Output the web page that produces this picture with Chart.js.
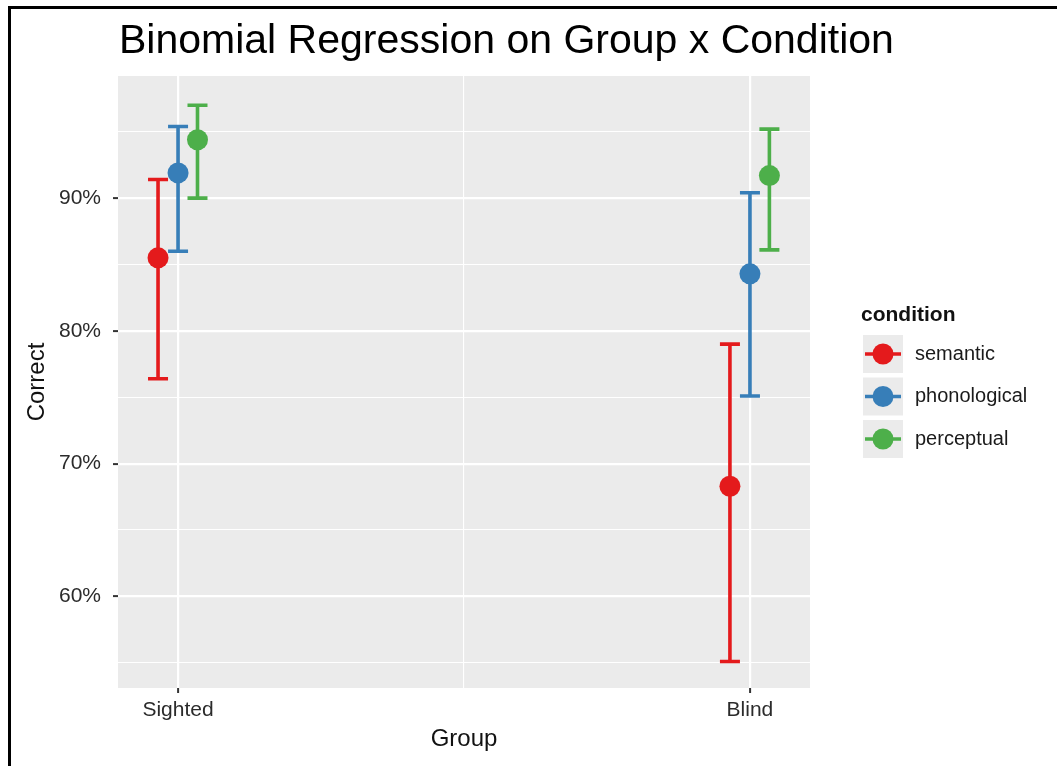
<!DOCTYPE html>
<html>

<head>
    <meta charset="UTF-8">
    <title>Binomial Regression on Group x Condition</title>
    <script src="https://cdn.jsdelivr.net/npm/chart.js"></script>
    <style>
        body { margin: 0; background: #fff; }
        #frame {
            position: absolute; left: 8px; top: 6px; right: 0; bottom: 0;
            border-top: 3px solid #000; border-left: 3px solid #000;
            pointer-events: none;
        }
        .wrap { position: relative; width: 1057px; height: 766px; }
    </style>
</head>

<body>
    <div class="wrap">
        <canvas id="chart" width="1057" height="766"></canvas>
        <div id="frame"></div>
    </div>
    <script>
        // data (percent correct)
        var groups = ['Sighted', 'Blind'];
        var conditions = ['semantic', 'phonological', 'perceptual'];
        var colors = ['#E41A1C', '#377EB8', '#4DAF4A'];

        var estimate = {
            semantic:     [85.5, 68.3],
            phonological: [91.9, 84.3],
            perceptual:   [94.4, 91.7]
        };
        var lower = {
            semantic:     [76.4, 55.1],
            phonological: [86.0, 75.1],
            perceptual:   [90.0, 86.1]
        };
        var upper = {
            semantic:     [91.4, 79.0],
            phonological: [95.4, 90.4],
            perceptual:   [97.0, 95.2]
        };
        var yTicks = [55, 60, 65, 70, 75, 80, 85, 90, 95];
        var dodge = [-0.035, 0, 0.034];

        var FONT = '"Liberation Sans", Arial, sans-serif';

        var datasets = conditions.map(function (c, i) {
            return {
                label: c,
                data: groups.map(function (g, j) {
                    return { x: j + 1 + dodge[i], y: estimate[c][j], lo: lower[c][j], hi: upper[c][j] };
                }),
                backgroundColor: colors[i],
                borderColor: colors[i],
                pointRadius: 10.5,
                pointHoverRadius: 10.5,
                borderWidth: 0
            };
        });

        // error bars under the points
        var errorBars = {
            id: 'errorBars',
            beforeDatasetsDraw: function (chart) {
                var ctx = chart.ctx, xs = chart.scales.x, ys = chart.scales.y;
                ctx.save();
                ctx.lineWidth = 3.6;
                chart.data.datasets.forEach(function (ds) {
                    ctx.strokeStyle = ds.borderColor;
                    ds.data.forEach(function (p) {
                        var x = xs.getPixelForValue(p.x);
                        var y1 = ys.getPixelForValue(p.lo);
                        var y2 = ys.getPixelForValue(p.hi);
                        ctx.beginPath();
                        ctx.moveTo(x, y1); ctx.lineTo(x, y2);
                        ctx.moveTo(x - 10, y1); ctx.lineTo(x + 10, y1);
                        ctx.moveTo(x - 10, y2); ctx.lineTo(x + 10, y2);
                        ctx.stroke();
                    });
                });
                ctx.restore();
            }
        };

        // panel background, titles and the legend
        var decorations = {
            id: 'decorations',
            beforeDraw: function (chart) {
                var a = chart.chartArea, ctx = chart.ctx;
                ctx.save();
                ctx.fillStyle = '#EBEBEB';
                ctx.fillRect(a.left, a.top, a.right - a.left, a.bottom - a.top);
                ctx.restore();
            },
            afterDraw: function (chart) {
                var a = chart.chartArea, ctx = chart.ctx;
                ctx.save();
                ctx.fillStyle = '#000';
                ctx.textBaseline = 'alphabetic';
                ctx.textAlign = 'left';
                ctx.font = '41px ' + FONT;
                ctx.fillText('Binomial Regression on Group x Condition', 119, 53);

                ctx.font = '24px ' + FONT;
                ctx.textAlign = 'center';
                ctx.textBaseline = 'middle';
                ctx.fillStyle = '#111';
                ctx.fillText('Group', (a.left + a.right) / 2, 739);
                ctx.save();
                ctx.translate(37, (a.top + a.bottom) / 2);
                ctx.rotate(-Math.PI / 2);
                ctx.fillText('Correct', 0, 0);
                ctx.restore();

                // legend
                ctx.textAlign = 'left';
                ctx.textBaseline = 'alphabetic';
                ctx.font = 'bold 21px ' + FONT;
                ctx.fillText('condition', 861, 321);
                ctx.font = '20px ' + FONT;
                ctx.textBaseline = 'middle';
                conditions.forEach(function (c, i) {
                    var top = 335 + i * 42.5;
                    ctx.fillStyle = '#EBEBEB';
                    ctx.fillRect(863, top, 40, 38);
                    var cy = top + 19;
                    ctx.strokeStyle = colors[i];
                    ctx.lineWidth = 3.6;
                    ctx.beginPath();
                    ctx.moveTo(865, cy); ctx.lineTo(901, cy);
                    ctx.stroke();
                    ctx.fillStyle = colors[i];
                    ctx.beginPath();
                    ctx.arc(883, cy, 10.5, 0, Math.PI * 2);
                    ctx.fill();
                    ctx.fillStyle = '#1a1a1a';
                    ctx.fillText(c, 915, cy);
                });
                ctx.restore();
            }
        };

        var ctx = document.getElementById('chart').getContext('2d');
        var chart = new Chart(ctx, {
            type: 'scatter',
            data: { datasets: datasets },
            plugins: [errorBars, decorations],
            options: {
                responsive: false,
                animation: false,
                layout: { padding: { top: 76, right: 247, left: 0, bottom: 0 } },
                plugins: { legend: { display: false }, tooltip: { enabled: false } },
                scales: {
                    x: {
                        type: 'linear',
                        min: 0.895,
                        max: 2.105,
                        afterBuildTicks: function (scale) {
                            scale.ticks = [1, 1.5, 2].map(function (v) { return { value: v }; });
                        },
                        afterFit: function (scale) { scale.height = 78; },
                        border: { display: false },
                        grid: {
                            color: '#FFFFFF',
                            lineWidth: function (c) { return c.tick && c.tick.value === 1.5 ? 1.1 : 2.2; },
                            tickColor: function (c) { return c.tick && c.tick.value === 1.5 ? 'rgba(0,0,0,0)' : '#333333'; },
                            tickLength: 5,
                            tickWidth: 2
                        },
                        ticks: {
                            autoSkip: false,
                            maxRotation: 0,
                            padding: 5,
                            color: '#2b2b2b',
                            font: { family: FONT, size: 21 },
                            callback: function (v) { return v === 1 ? groups[0] : v === 2 ? groups[1] : ''; }
                        }
                    },
                    y: {
                        min: 53.1,
                        max: 99.2,
                        afterBuildTicks: function (scale) {
                            scale.ticks = yTicks.map(function (v) { return { value: v }; });
                        },
                        afterFit: function (scale) { scale.width = 118; },
                        border: { display: false },
                        grid: {
                            color: '#FFFFFF',
                            lineWidth: function (c) { return c.tick && c.tick.value % 10 === 0 ? 2.2 : 1.1; },
                            tickColor: function (c) { return c.tick && c.tick.value % 10 === 0 ? '#333333' : 'rgba(0,0,0,0)'; },
                            tickLength: 5,
                            tickWidth: 2
                        },
                        ticks: {
                            autoSkip: false,
                            padding: 12,
                            color: '#2b2b2b',
                            font: { family: FONT, size: 21 },
                            callback: function (v) { return v % 10 === 0 ? v + '%' : ''; }
                        }
                    }
                }
            }
        });
    </script>
</body>

</html>
